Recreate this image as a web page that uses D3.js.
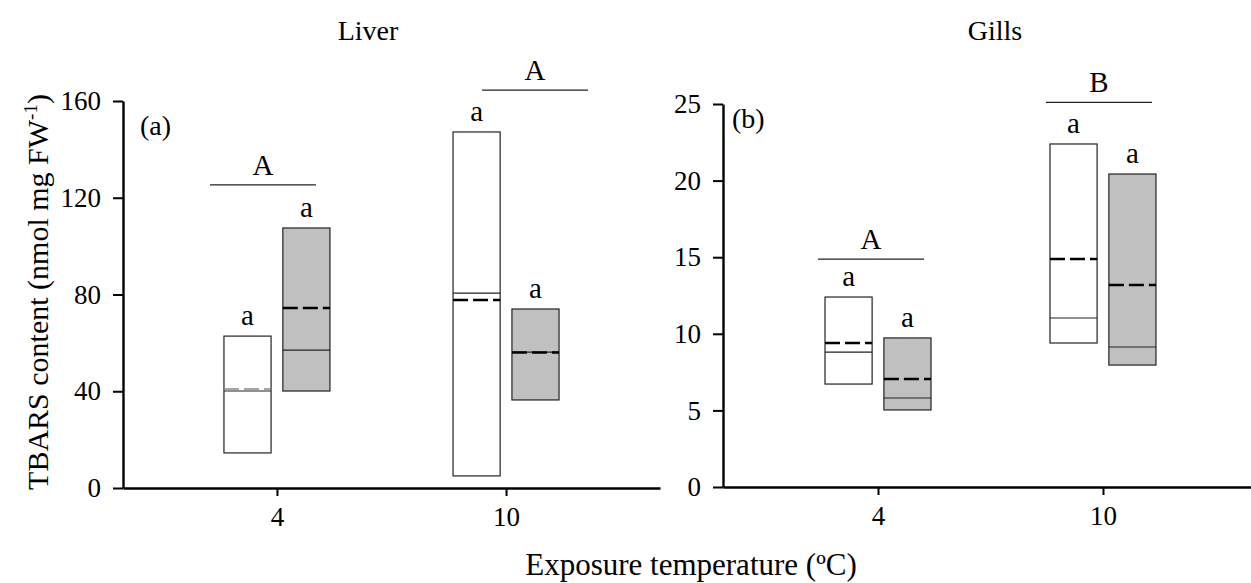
<!DOCTYPE html>
<html><head><meta charset="utf-8">
<script src="https://cdn.jsdelivr.net/npm/d3@7"></script>
<style>
html,body{margin:0;padding:0;background:#fff;}
svg{display:block;font-family:"Liberation Serif","Times New Roman",serif;}
</style>
</head><body>
<svg id="chart" width="1251" height="583"></svg>
<script>
// ---------- data ----------
const categories = ["4", "10"];               // exposure temperature (ºC)
const seriesNames = ["white", "grey"];       // two groups per temperature
// Liver (nmol mg FW-1) : [category][series]
const liverQ1     = [[14.5, 40.1], [5.0, 36.4]];
const liverQ3     = [[62.8, 107.5], [147.2, 74.0]];
const liverMedian = [[40.1, 57.0], [80.6, 56.2]];
const liverMean   = [[40.9, 74.4], [77.7, 56.0]];
const liverBoxLetters = [["a", "a"], ["a", "a"]];
const liverGroupLetters = ["A", "A"];
const liverGroupLineY = [125.3, 164.5];
const liverTicks = [0, 40, 80, 120, 160];
// Gills
const gillsQ1     = [[6.72, 5.03], [9.40, 7.96]];
const gillsQ3     = [[12.4, 9.73], [22.39, 20.43]];
const gillsMedian = [[8.81, 5.81], [11.03, 9.14]];
const gillsMean   = [[9.40, 7.05], [14.88, 13.19]];
const gillsBoxLetters = [["a", "a"], ["a", "a"]];
const gillsGroupLetters = ["A", "B"];
const gillsGroupLineY = [14.88, 25.1];
const gillsTicks = [0, 5, 10, 15, 20, 25];

// ---------- layout ----------
const svg = d3.select("#chart");
const fills = {white: "#ffffff", grey: "#c0c0c0"};
const FONT = "Liberation Serif";

function panel(opt) {
  const g = svg.append("g");
  const x = d3.scalePoint().domain(categories).range([opt.x0, opt.x1]).padding(opt.pad);
  const sub = d3.scaleBand().domain(seriesNames).range([-53, 53]).paddingInner(0.2);
  const y = d3.scaleLinear().domain([0, opt.ymax]).range([opt.yb, opt.yt]);

  // axes
  const ya = g.append("g").attr("transform", `translate(${opt.x0},0)`)
    .call(d3.axisLeft(y).tickValues(opt.ticks).tickSize(10).tickPadding(12).tickSizeOuter(0));
  const xa = g.append("g").attr("transform", `translate(0,${opt.yb})`)
    .call(d3.axisBottom(x).tickSize(8).tickPadding(11).tickSizeOuter(0));
  [ya, xa].forEach(a => {
    a.attr("font-family", FONT);
    a.select(".domain").attr("stroke", "#000").attr("stroke-width", 2.4);
    a.selectAll(".tick line").attr("stroke", "#000").attr("stroke-width", 2);
    a.selectAll(".tick text").attr("font-size", 27).attr("fill", "#000");
  });

  // boxes
  const boxes = [];
  categories.forEach((c, i) => seriesNames.forEach((s, j) => {
    boxes.push({c, s, q1: opt.q1[i][j], q3: opt.q3[i][j], med: opt.med[i][j], mean: opt.mean[i][j], lab: opt.boxLetters[i][j]});
  }));
  const bx = d => x(d.c) + sub(d.s);
  const bw = sub.bandwidth();
  g.selectAll("rect.box").data(boxes).join("rect")
    .attr("x", bx).attr("width", bw)
    .attr("y", d => y(d.q3)).attr("height", d => y(d.q1) - y(d.q3))
    .attr("fill", d => fills[d.s]).attr("stroke", "#222").attr("stroke-width", 1.2);
  g.selectAll("line.med").data(boxes).join("line")
    .attr("x1", bx).attr("x2", d => bx(d) + bw)
    .attr("y1", d => y(d.med)).attr("y2", d => y(d.med))
    .attr("stroke", "#222").attr("stroke-width", 1.2);
  g.selectAll("line.mean").data(boxes).join("line")
    .attr("x1", bx).attr("x2", d => bx(d) + bw)
    .attr("y1", d => y(d.mean)).attr("y2", d => y(d.mean))
    .attr("stroke", d => Math.abs(y(d.mean) - y(d.med)) < 4 && d.mean > d.med ? "#888" : "#000")
    .attr("stroke-width", d => Math.abs(y(d.mean) - y(d.med)) < 4 && d.mean > d.med ? 1.6 : 2.6)
    .attr("stroke-dasharray", "15,5");
  g.selectAll("text.blab").data(boxes).join("text")
    .attr("x", d => bx(d) + bw / 2).attr("y", d => y(d.q3) - 11)
    .attr("text-anchor", "middle").attr("font-size", 29).text(d => d.lab);

  // group letters
  categories.forEach((c, i) => {
    const cx = x(c) + opt.groupShift[i];
    const ly = y(opt.groupY[i]);
    g.append("line").attr("x1", cx - 53).attr("x2", cx + 53).attr("y1", ly).attr("y2", ly)
      .attr("stroke", "#222").attr("stroke-width", 1.2);
    g.append("text").attr("x", cx).attr("y", ly - 10).attr("text-anchor", "middle")
      .attr("font-size", 29).text(opt.groupLetters[i]);
  });

  // panel tag & title
  g.append("text").attr("x", opt.x0 + opt.tagDx).attr("y", opt.tagY).attr("font-size", 28).text(opt.tag);
  g.append("text").attr("x", opt.titleX).attr("y", 40).attr("text-anchor", "middle").attr("font-size", 28).text(opt.title);
}

panel({x0: 123, x1: 660, pad: 0.672, yb: 488, yt: 101, ymax: 160, ticks: liverTicks,
  q1: liverQ1, q3: liverQ3, med: liverMedian, mean: liverMean, boxLetters: liverBoxLetters,
  groupLetters: liverGroupLetters, groupY: liverGroupLineY, groupShift: [-14, 29],
  tag: "(a)", tagDx: 17, tagY: 135, title: "Liver", titleX: 368});

panel({x0: 723, x1: 1258, pad: 0.689, yb: 487, yt: 104, ymax: 25, ticks: gillsTicks,
  q1: gillsQ1, q3: gillsQ3, med: gillsMedian, mean: gillsMean, boxLetters: gillsBoxLetters,
  groupLetters: gillsGroupLetters, groupY: gillsGroupLineY, groupShift: [-7, -4],
  tag: "(b)", tagDx: 9, tagY: 128, title: "Gills", titleX: 995});

// axis titles
const yt = svg.append("text").attr("transform", "translate(48,292) rotate(-90)")
  .attr("text-anchor", "middle").attr("font-size", 30);
yt.append("tspan").text("TBARS content (nmol mg FW");
yt.append("tspan").attr("dy", -11).attr("font-size", 19).text("-1");
yt.append("tspan").attr("dy", 11).text(")");

svg.append("text").attr("x", 691).attr("y", 575).attr("text-anchor", "middle")
  .attr("font-size", 31).text("Exposure temperature (ºC)");
</script>
</body></html>
